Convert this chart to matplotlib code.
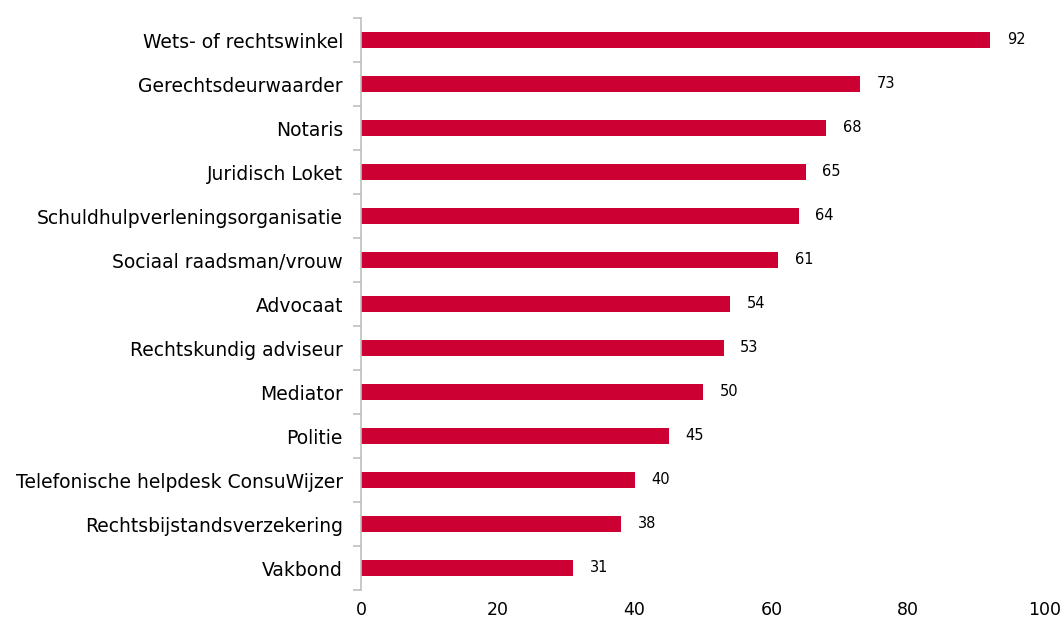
import matplotlib.pyplot as plt
from matplotlib.ticker import FixedLocator

categories = ['Wets- of rechtswinkel', 'Gerechtsdeurwaarder', 'Notaris', 'Juridisch Loket',
              'Schuldhulpverleningsorganisatie', 'Sociaal raadsman/vrouw', 'Advocaat',
              'Rechtskundig adviseur', 'Mediator', 'Politie',
              'Telefonische helpdesk ConsuWijzer', 'Rechtsbijstandsverzekering', 'Vakbond']
values = [92, 73, 68, 65, 64, 61, 54, 53, 50, 45, 40, 38, 31]
xticks = [0, 20, 40, 60, 80, 100]

bar_color = '#CC0033'
grey = '#BFBFBF'

fig = plt.figure(figsize=(10.64, 6.24), dpi=100)
ax = fig.add_axes([361 / 1064, 1 - 590 / 624, (1045 - 361) / 1064, (590 - 18) / 624])

n = len(categories)
ypos = list(range(n))
ax.barh(ypos, values, height=0.36, color=bar_color)
for y, v in zip(ypos, values):
    ax.annotate(str(v), (v, y), xytext=(12, 0), textcoords='offset points',
                va='center', ha='left', fontsize=10.5, color='#000000')

ax.set_xlim(0, 100)
ax.set_ylim(n - 0.5, -0.5)
ax.set_yticks(ypos)
ax.set_yticklabels(categories, fontsize=13.5)
ax.yaxis.set_minor_locator(FixedLocator([i - 0.5 for i in range(n + 1)]))
ax.tick_params(axis='y', which='major', length=0, pad=13)
ax.tick_params(axis='y', which='minor', length=6, color=grey, width=1.2)
ax.set_xticks(xticks)
ax.tick_params(axis='x', length=0, labelsize=12.5, pad=8)

for side in ['top', 'right', 'bottom']:
    ax.spines[side].set_visible(False)
ax.spines['left'].set_color(grey)
ax.spines['left'].set_linewidth(1.2)

fig.savefig('out.png', dpi=100)
